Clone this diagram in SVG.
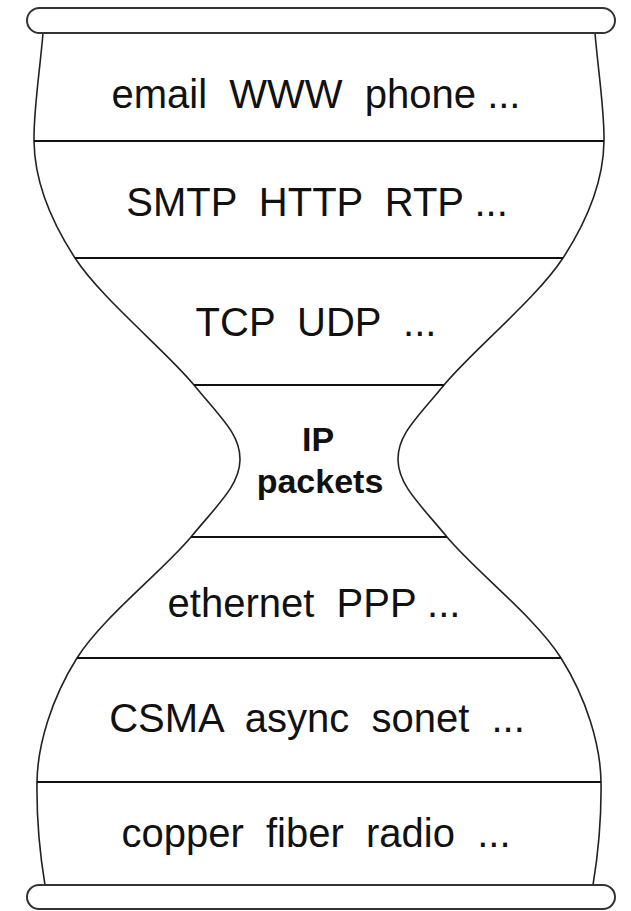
<svg xmlns="http://www.w3.org/2000/svg" width="631" height="911" viewBox="0 0 631 911">
<style>
.cap{fill:#fff;stroke:#333;stroke-width:2}
.outline{fill:none;stroke:#222;stroke-width:1.6}
.sep{stroke:#111;stroke-width:2.2}
.t{font-family:"Liberation Sans",Arial,sans-serif;font-size:40px;fill:#111;text-anchor:middle;white-space:pre}
.b{font-family:"Liberation Sans",Arial,sans-serif;font-size:34px;font-weight:bold;fill:#111;text-anchor:middle}
</style>
<rect width="631" height="911" fill="#fff"/>
<g id="hourglass-outline">
<path class="outline" d="M43,33 C40,70 33.5,110 34,141 C34.5,180 48.3,217 75,258 C101.5,298.7 166.5,351.3 194,385 C221.5,418.7 240.5,434.7 240,460 C239.5,485.3 218.2,504 191,537 C163.8,570 102.7,617.2 77,658 C51.3,698.8 37.5,745 37,782 C36.5,815 40,855 45,885"/>
<path class="outline" d="M595,33 C598,70 604.5,110 604,141 C603.5,180 589.7,217 563,258 C536.5,298.7 471.5,351.3 444,385 C416.5,418.7 397.5,434.7 398,460 C398.5,485.3 419.8,504 447,537 C474.2,570 535.3,617.2 561,658 C586.7,698.8 600.5,745 601,782 C601.5,815 598,855 593,885"/>
</g>
<g id="caps">
<rect id="top-cap" class="cap" x="27" y="8" width="588" height="25" rx="12.5"/>
<rect id="bottom-cap" class="cap" x="27" y="885" width="588" height="24" rx="12"/>
</g>
<g id="connectors">
<line class="sep" x1="34" y1="141" x2="604" y2="141"/>
<line class="sep" x1="75" y1="258" x2="563" y2="258"/>
<line class="sep" x1="194" y1="385" x2="444" y2="385"/>
<line class="sep" x1="191" y1="537" x2="447" y2="537"/>
<line class="sep" x1="77" y1="658" x2="561" y2="658"/>
<line class="sep" x1="37" y1="782" x2="601" y2="782"/>
</g>
<g id="layer-applications"><text class="t" x="316" y="108">email  WWW  phone ...</text></g>
<g id="layer-app-protocols"><text class="t" x="317" y="216">SMTP  HTTP  RTP ...</text></g>
<g id="layer-transport"><text class="t" x="316" y="336">TCP  UDP  ...</text></g>
<g id="layer-ip"><text class="b" x="318" y="451">IP</text><text class="b" x="320" y="493">packets</text></g>
<g id="layer-link"><text class="t" x="314" y="617">ethernet  PPP ...</text></g>
<g id="layer-mac"><text class="t" x="317" y="732">CSMA  async  sonet  ...</text></g>
<g id="layer-physical"><text class="t" x="316" y="847">copper  fiber  radio  ...</text></g>
</svg>
